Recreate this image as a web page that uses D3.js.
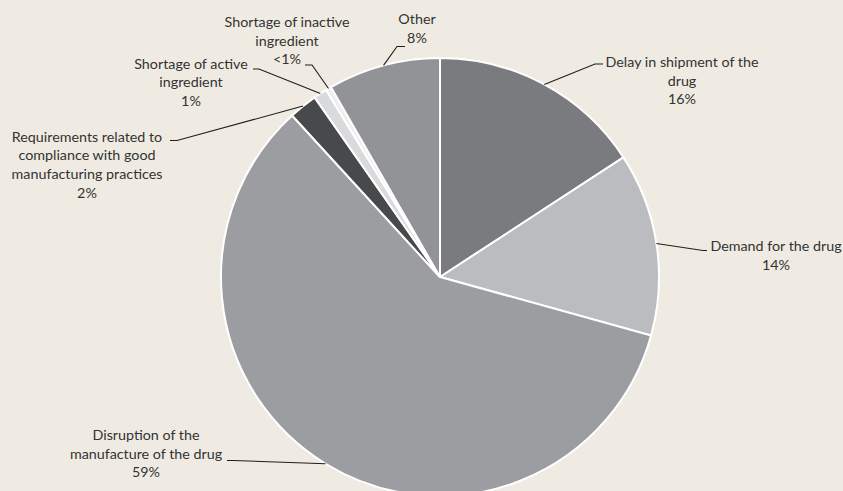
<!DOCTYPE html>
<html>
<head>
<meta charset="utf-8">
<script src="https://cdn.jsdelivr.net/npm/d3@7"></script>
<style>
  html, body { margin: 0; padding: 0; background: #efebe2; }
  svg { display: block; }
  text { font-family: Lato, "Open Sans", sans-serif; font-size: 14.3px; fill: #333333; }
</style>
</head>
<body>
<svg id="chart" width="843" height="491"></svg>
<script>
// ---- data ----
const categories = [
  "Delay in shipment of the drug",
  "Demand for the drug",
  "Disruption of the manufacture of the drug",
  "Requirements related to compliance with good manufacturing practices",
  "Shortage of active ingredient",
  "Shortage of inactive ingredient",
  "Other"
];
const categoryLines = [
  ["Delay in shipment of the", "drug"],
  ["Demand for the drug"],
  ["Disruption of the", "manufacture of the drug"],
  ["Requirements related to", "compliance with good", "manufacturing practices"],
  ["Shortage of active", "ingredient"],
  ["Shortage of inactive", "ingredient"],
  ["Other"]
];
const values = [15.8, 13.5, 58.9, 2.1, 1.0, 0.4, 8.3];
const percentLabels = ["16%", "14%", "59%", "2%", "1%", "<1%", "8%"];

// ---- styles / layout ----
const colors = ["#7a7b7f", "#bbbcc0", "#9c9da1", "#48494b", "#d9dadc", "#eeeeef", "#929397"];
const labelCenterX = [682, 776, 146, 87, 191, 287, 417];
const labelFirstBaseline = [67, 251, 440, 141.5, 68.5, 27, 24];
const lineHeight = 18.7;
const leaderElbow = [[595, 64], [703, 250.5], [233, 460.5], [177, 140.5], [259, 69], [312, 65], [397, 46.5]];
const leaderEnd = [[603, 64], [707, 250.5], [227, 460.5], [170, 140.5], [253, 69], [305, 65], [405, 46.5]];

const cx = 440, cy = 277, r = 219;

const svg = d3.select("#chart");
const g = svg.append("g").attr("transform", `translate(${cx},${cy})`);

const data = categories.map((c, i) => ({ name: c, value: values[i], i }));
const pie = d3.pie().sort(null).value(d => d.value);
const arcs = pie(data);
const arc = d3.arc().innerRadius(0).outerRadius(r);
const edge = d3.arc().innerRadius(r).outerRadius(r);

g.selectAll("path.slice")
  .data(arcs)
  .join("path")
  .attr("class", "slice")
  .attr("d", arc)
  .attr("fill", d => colors[d.data.i])
  .attr("stroke", "#ffffff")
  .attr("stroke-width", 2)
  .attr("stroke-linejoin", "round");

// leader lines
const line = d3.line();
svg.selectAll("path.leader")
  .data(arcs)
  .join("path")
  .attr("class", "leader")
  .attr("d", d => {
    const [px, py] = edge.centroid(d);
    const i = d.data.i;
    return line([[cx + px, cy + py], leaderElbow[i], leaderEnd[i]]);
  })
  .attr("fill", "none")
  .attr("stroke", "#1e1e1e")
  .attr("stroke-width", 1.1);

// labels
const labels = svg.selectAll("text.lbl")
  .data(arcs)
  .join("text")
  .attr("class", "lbl")
  .attr("text-anchor", "middle");

labels.each(function(d) {
  const i = d.data.i;
  const lines = categoryLines[i].concat([percentLabels[i]]);
  d3.select(this).selectAll("tspan")
    .data(lines)
    .join("tspan")
    .attr("x", labelCenterX[i])
    .attr("y", (t, k) => labelFirstBaseline[i] + k * lineHeight)
    .text(t => t);
});
</script>
</body>
</html>
